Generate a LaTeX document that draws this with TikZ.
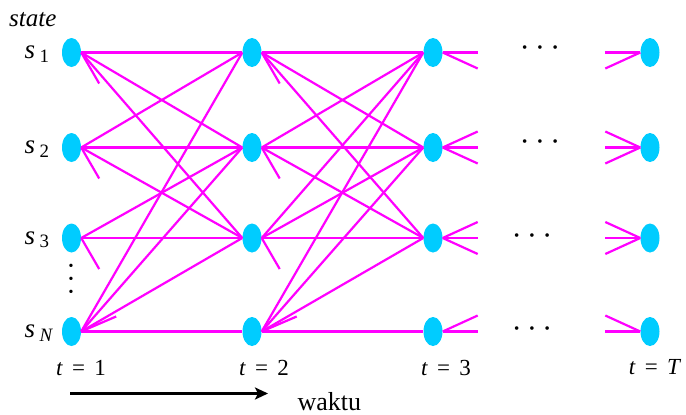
\documentclass[tikz,border=0pt]{standalone}
\usepackage{fontspec}
\setmainfont{Liberation Serif}
\usetikzlibrary{arrows.meta,shapes.geometric}
\definecolor{stcyan}{RGB}{0,204,255}
\definecolor{trmag}{RGB}{255,0,255}
\begin{document}
\begin{tikzpicture}[x=1pt,y=-1pt,st/.style={ellipse,fill=stcyan,minimum width=19pt,minimum height=29pt,inner sep=0pt},
  tr/.style={trmag,line width=2.2pt},slab/.style={font=\fontsize{27}{30}\selectfont,anchor=base west},
  tlab/.style={font=\fontsize{23}{27}\selectfont,anchor=base},dts/.style={font=\fontsize{15}{15}\selectfont}]
\useasboundingbox (0,0) rectangle (686,415);
\foreach \c/\x in {1/71.5,2/252,3/433,4/650} \foreach \r/\y in {1/52.5,2/147.5,3/238,4/331.5} \node[st] (n\c\r) at (\x,\y) {};
\foreach \a/\b in {1/1,1/2,1/3,2/1,2/2,2/3,3/2,3/3,4/1,4/2,4/3,4/4} \draw[tr] (n1\a.east) -- (n2\b.west);
\foreach \a/\b in {1/1,1/2,1/3,2/1,2/2,2/3,3/1,3/2,3/3,4/1,4/2,4/3,4/4} \draw[tr] (n2\a.east) -- (n3\b.west);
\foreach \c in {1,2} {\foreach \r in {1,2,3} \draw[tr] (n\c\r.east) -- ++(18,31); \draw[tr] (n\c4.east) -- ++(35,-15);}
\foreach \r/\d in {1/0,1/16,2/-16,2/0,2/16,3/-16,3/0,3/16,4/-16,4/0} {\draw[tr] (n3\r.east) -- ++(35,\d); \draw[tr] (n4\r.west) -- ++(-35,\d);}
\node[font=\fontsize{25}{29}\selectfont\itshape,anchor=base west,inner sep=0pt] (lstate) at (9,26) {state};
\node[slab] (ls1) at (21,58.5) {\textit{s}\,\textsubscript{1}}; \node[slab] (ls2) at (21,153.5) {\textit{s}\,\textsubscript{2}};
\node[slab] (ls3) at (21,244) {\textit{s}\,\textsubscript{3}}; \node[slab] (lsN) at (21,337.5) {\textit{s}\,\textsubscript{\textit{N}}};
\node[font=\fontsize{14}{13}\selectfont,align=center,inner sep=0pt] (vd) at (71,280) {•\\•\\•};
\node[dts] (d1) at (540,49) {•\hspace{10pt}•\hspace{10pt}•}; \node[dts] (d2) at (540,143) {•\hspace{10pt}•\hspace{10pt}•};
\node[dts] (d3) at (532,237) {•\hspace{10pt}•\hspace{10pt}•}; \node[dts] (d4) at (532,330) {•\hspace{10pt}•\hspace{10pt}•};
\node[tlab] (t1) at (81,375) {\textit{t}\hspace{0.4em}=\hspace{0.4em}1}; \node[tlab] (t2) at (264,375) {\textit{t}\hspace{0.4em}=\hspace{0.4em}2};
\node[tlab] (t3) at (446,375) {\textit{t}\hspace{0.4em}=\hspace{0.4em}3}; \node[tlab] (tT) at (655,374) {\textit{t}\hspace{0.4em}=\hspace{0.4em}\textit{T}};
\coordinate (ta) at (70,393.5); \coordinate (tb) at (268,393.5);
\draw[-{Stealth[length=13pt,width=12pt,inset=3pt]},line width=2.7pt] (ta) -- (tb);
\node[font=\fontsize{26}{30}\selectfont,anchor=base west] (lwaktu) at (294,410.5) {waktu};
\end{tikzpicture}
\end{document}
